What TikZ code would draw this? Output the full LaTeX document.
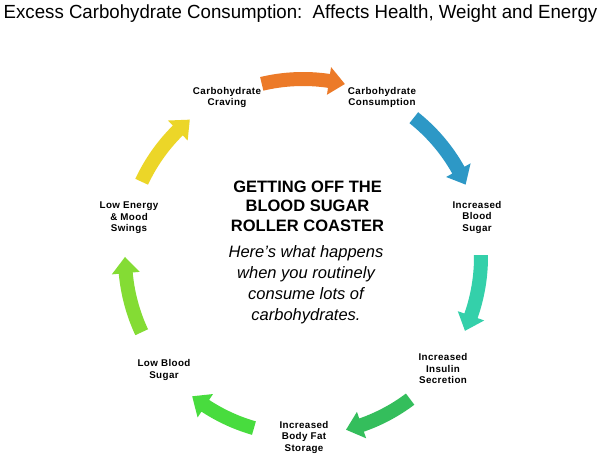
\documentclass[tikz,border=0pt]{standalone}
\usepackage{fontspec}
\setmainfont{Liberation Sans}
\newfontfamily\lblfont[LetterSpace=4]{Liberation Sans}
\usetikzlibrary{calc}
\definecolor{cOrange}{RGB}{236,122,40}
\definecolor{cBlue}{RGB}{45,152,198}
\definecolor{cTeal}{RGB}{52,208,170}
\definecolor{cGreenA}{RGB}{52,190,92}
\definecolor{cGreenB}{RGB}{72,220,62}
\definecolor{cLime}{RGB}{132,220,52}
\definecolor{cYellow}{RGB}{236,214,40}
\newcommand{\cyclearrow}[3]{%
  \pgfmathsetmacro{\ah}{#3+5.2}%
  \fill[#1] ($(C)+(#2:185pt)$) arc[start angle=#2, end angle=\ah, radius=185pt]
    -- ($(C)+(\ah:192pt)$) -- ($(C)+(#3:178pt)$) -- ($(C)+(\ah:164pt)$)
    -- ($(C)+(\ah:171pt)$) arc[start angle=\ah, end angle=#2, radius=171pt] -- cycle;}
\begin{document}
\begin{tikzpicture}[x=1pt,y=1pt,
  lbl/.style={font=\lblfont\fontsize{9.8}{11.5}\selectfont\bfseries, align=center, text=black, inner sep=0pt},
  head/.style={font=\fontsize{16.5}{19.5}\selectfont\bfseries, align=center, inner sep=0pt},
  body/.style={font=\fontsize{16.5}{21}\selectfont\itshape, align=center, inner sep=0pt}]
\useasboundingbox (0,0) rectangle (603,457);
\fill[white] (0,0) rectangle (603,457);
\coordinate (C) at (303,200);
\node[inner sep=0pt, font=\fontsize{19}{22}\selectfont] (title) at (300.5,443) {\scalebox{0.982}[1]{Excess Carbohydrate Consumption:\ \ Affects Health, Weight and Energy}};
% arrows
\cyclearrow{cOrange}{103.4}{76.4}
\cyclearrow{cBlue}{51.5}{24}
\cyclearrow{cTeal}{0.6}{-24.5}
\cyclearrow{cGreenA}{-53}{-76}
\cyclearrow{cGreenB}{-106}{-128.5}
\cyclearrow{cLime}{-155}{-180}
\cyclearrow{cYellow}{155}{129.5}
% labels
\node[lbl] (craving) at (227,359.5) {Carbohydrate\\Craving};
\node[lbl] (consumption) at (382,359.5) {Carbohydrate\\Consumption};
\node[lbl] (bloodsugar) at (477,240) {Increased\\Blood\\Sugar};
\node[lbl] (insulin) at (443,88) {Increased\\Insulin\\Secretion};
\node[lbl] (fat) at (304,20) {Increased\\Body Fat\\Storage};
\node[lbl] (low) at (164,87) {Low Blood\\Sugar};
\node[lbl] (energy) at (129,239) {Low Energy\\\& Mood\\Swings};
% centre
\node[head] (heading) at (307.5,251) {GETTING OFF THE\\BLOOD SUGAR\\ROLLER COASTER};
\node[body] (text) at (306,172) {Here’s what happens\\when you routinely\\consume lots of\\carbohydrates.};
\end{tikzpicture}
\end{document}
